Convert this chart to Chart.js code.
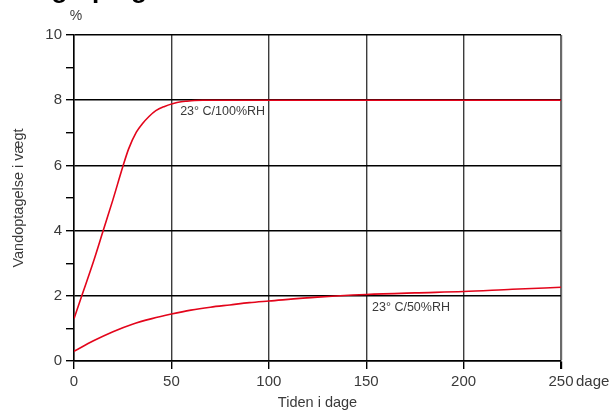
<!DOCTYPE html>
<html>
<head>
<meta charset="utf-8">
<script src="https://cdn.jsdelivr.net/npm/chart.js@4.4.1/dist/chart.umd.min.js"></script>
<style>
  html, body { margin: 0; padding: 0; background: #fff; }
  #wrap { width: 612px; height: 412px; position: relative; }
</style>
</head>
<body>
<div id="wrap"><canvas id="c" width="612" height="412"></canvas></div>
<script>
// Water uptake (% by weight) over time in days
const days100 = [0, 4, 10, 15, 20, 25, 28, 32, 35, 38.5, 42, 46.5, 51, 55, 58, 62, 66, 250];
const uptake100 = [1.3, 2.0, 3.05, 4.0, 4.95, 5.95, 6.5, 7.02, 7.27, 7.5, 7.68, 7.81, 7.9, 7.95, 7.97, 7.99, 8.0, 8.0];

const days50 = [0, 10, 20, 30, 40, 50, 60, 70, 80, 90, 100, 125, 150, 175, 200, 225, 250];
const uptake50 = [0.3, 0.62, 0.9, 1.13, 1.3, 1.44, 1.56, 1.65, 1.72, 1.79, 1.84, 1.96, 2.04, 2.09, 2.13, 2.2, 2.26];

const seriesNames = ['23° C/100%RH', '23° C/50%RH'];
// where each series name sits (in data units: day, %)
const nameAnchorX = [54.5, 153];
const nameAnchorY = [8, 2];

const xTicks = [0, 50, 100, 150, 200, 250];
const yMajor = [0, 2, 4, 6, 8, 10];

const RED = '#e3051b';
const TEXT = '#3a3a3a';
const FONT = '"Liberation Sans", Arial, sans-serif';

const toPts = (xs, ys) => xs.map((x, i) => ({ x, y: ys[i] }));

const extras = {
  id: 'extras',
  afterDraw(chart) {
    const { ctx, scales: { x, y } } = chart;
    ctx.save();
    // heading, mostly above the page edge
    ctx.fillStyle = '#000';
    ctx.font = 'bold 26px ' + FONT;
    ctx.textBaseline = 'alphabetic';
    ctx.textAlign = 'left';
    ctx.fillText('Vægtoptagelse', 11, -2);
    // unit above the y axis
    ctx.fillStyle = TEXT;
    ctx.font = '14px ' + FONT;
    ctx.textAlign = 'center';
    ctx.textBaseline = 'middle';
    ctx.fillText('%', x.getPixelForValue(0) + 2, 16);
    // unit after last x tick
    ctx.font = '15px ' + FONT;
    ctx.textAlign = 'left';
    ctx.textBaseline = 'top';
    const lastTick = x.getPixelForValue(xTicks[xTicks.length - 1]);
    ctx.fillText('dage', lastTick + 15, 374);
    // series names
    ctx.font = '12.5px ' + FONT;
    ctx.textBaseline = 'top';
    seriesNames.forEach((n, i) => {
      ctx.fillText(n, x.getPixelForValue(nameAnchorX[i]), y.getPixelForValue(nameAnchorY[i]) + 5);
    });
    ctx.restore();
  }
};

new Chart(document.getElementById('c'), {
  type: 'line',
  data: {
    datasets: [
      { label: seriesNames[0], data: toPts(days100, uptake100), borderColor: RED, borderWidth: 1.6, pointRadius: 0, cubicInterpolationMode: 'monotone', fill: false },
      { label: seriesNames[1], data: toPts(days50, uptake50), borderColor: RED, borderWidth: 1.6, pointRadius: 0, cubicInterpolationMode: 'monotone', fill: false }
    ]
  },
  options: {
    responsive: false,
    animation: false,
    layout: { padding: { left: 0, top: 35, right: 51, bottom: 0 } },
    plugins: { legend: { display: false }, tooltip: { enabled: false } },
    scales: {
      x: {
        type: 'linear', min: 0, max: 250,
        afterFit(s) { s.height = 51; },
        afterBuildTicks(s) { s.ticks = xTicks.map(v => ({ value: v })); },
        ticks: { color: TEXT, font: { family: FONT, size: 15 }, padding: 4, maxRotation: 0 },
        grid: {
          color: c => c.tick && c.tick.value === 250 ? '#6a6a6a' : (c.tick && c.tick.value === 0 ? '#000' : '#3c3c3c'),
          lineWidth: c => c.tick && c.tick.value === 250 ? 2.2 : 1.4,
          tickColor: '#000', tickLength: 8, drawTicks: true
        },
        border: { display: true, color: '#000', width: 1.4 },
        title: { display: true, text: 'Tiden i dage', color: TEXT, font: { family: FONT, size: 14.5 }, padding: { top: 0, bottom: 0 } }
      },
      y: {
        min: 0, max: 10,
        afterFit(s) { s.width = 74; },
        ticks: {
          stepSize: 1, color: TEXT, font: { family: FONT, size: 15 }, padding: 4,
          callback: v => yMajor.includes(v) ? String(v) : ''
        },
        grid: {
          color: c => yMajor.includes(c.tick ? c.tick.value : -1) ? '#000' : 'rgba(0,0,0,0)',
          lineWidth: 1.4, tickColor: '#000', tickLength: 8
        },
        border: { display: true, color: '#000', width: 1.4 },
        title: { display: true, text: 'Vandoptagelse i vægt', color: TEXT, font: { family: FONT, size: 14.5 }, padding: { top: 10, bottom: 0 } }
      }
    }
  },
  plugins: [extras]
});
</script>
</body>
</html>
